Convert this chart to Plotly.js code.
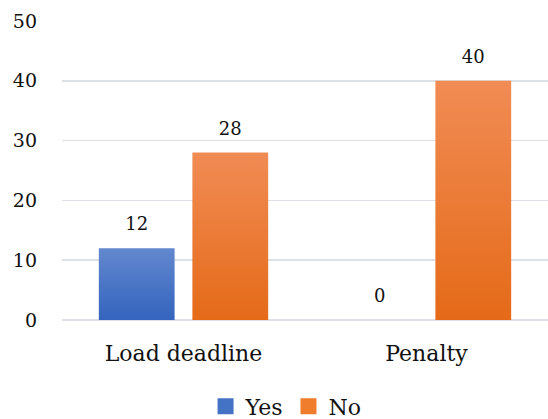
<!DOCTYPE html>
<html>
<head>
<meta charset="utf-8">
<script src="https://cdn.plot.ly/plotly-3.0.1.min.js"></script>
<style>html,body{margin:0;padding:0;background:#fff;}#chart{width:548px;height:419px;}</style>
</head>
<body>
<div id="chart"></div>
<script>
const categories = ["Load deadline", "Penalty"];
const seriesNames = ["Yes", "No"];
const yesValues = [12, 0];
const noValues = [28, 40];
const yTicks = [0, 10, 20, 30, 40, 50];

const font = "DejaVu Serif, Liberation Serif, serif";

const traces = [
  {
    type: "bar", name: seriesNames[0], x: categories, y: yesValues,
    marker: {color: "#4472C4"},
    text: yesValues.map(String), textposition: "outside", cliponaxis: false,
    textfont: {family: font, size: 18, color: "#111"}
  },
  {
    type: "bar", name: seriesNames[1], x: categories, y: noValues,
    marker: {color: "#F07D2C"},
    text: noValues.map(String), textposition: "outside", cliponaxis: false,
    textfont: {family: font, size: 18, color: "#111"}
  }
];

const layout = {
  width: 548, height: 419,
  margin: {l: 62, r: 0, t: 21, b: 99, autoexpand: false},
  paper_bgcolor: "#fff", plot_bgcolor: "#fff",
  barmode: "group", bargap: 0.23, bargroupgap: 0.19,
  font: {family: font, color: "#111"},
  xaxis: {
    showgrid: false, showline: false, ticks: "", ticklabelstandoff: 18,
    tickangle: 0, automargin: false,
    tickfont: {family: font, size: 22, color: "#111"}
  },
  yaxis: {
    range: [0, 50], tickvals: yTicks, ticktext: yTicks.map(String),
    showgrid: true, gridcolor: "#DDE1E6", gridwidth: 1.5,
    zeroline: true, zerolinecolor: "#DDE1E6", zerolinewidth: 1.5,
    showline: false, ticks: "", ticklabelstandoff: 24, automargin: false,
    tickfont: {family: font, size: 19, color: "#111"}
  },
  showlegend: true,
  legend: {
    orientation: "h", xref: "container", yref: "container",
    x: 0.522, xanchor: "center", y: 0.03, yanchor: "middle",
    font: {family: font, size: 22, color: "#111"},
    itemwidth: 30, tracegroupgap: 0
  }
};

function decorate(gd) {
  const svg = gd.querySelector(".main-svg");
  const ns = "http://www.w3.org/2000/svg";
  const defs = svg.querySelector("defs");
  function grad(id, top, bottom) {
    if (defs.querySelector("#" + id)) return;
    const g = document.createElementNS(ns, "linearGradient");
    g.setAttribute("id", id);
    g.setAttribute("x1", "0"); g.setAttribute("y1", "0");
    g.setAttribute("x2", "0"); g.setAttribute("y2", "1");
    [[0, top], [1, bottom]].forEach(function (s) {
      const st = document.createElementNS(ns, "stop");
      st.setAttribute("offset", s[0]);
      st.setAttribute("stop-color", s[1]);
      g.appendChild(st);
    });
    defs.appendChild(g);
  }
  grad("gYes", "#6288CE", "#3464BE");
  grad("gNo", "#F18C55", "#E56A18");
  const ids = ["gYes", "gNo"];
  gd.querySelectorAll(".barlayer .trace").forEach(function (t, i) {
    t.querySelectorAll(".point path").forEach(function (p) {
      p.style.fill = "url(#" + ids[i] + ")";
    });
    // lift the value labels a little further above the bars
    t.querySelectorAll("text.bartext").forEach(function (tx) {
      if (!tx.dataset.lifted) {
        const tr = tx.getAttribute("transform") || "";
        tx.setAttribute("transform", "translate(0,-11) " + tr);
        tx.dataset.lifted = "1";
      }
    });
  });
  // larger legend swatches, as in the reference
  gd.querySelectorAll(".legend .legendpoints path").forEach(function (p) {
    p.setAttribute("d", "M-8,-8H8V8H-8Z");
  });
}

Plotly.newPlot("chart", traces, layout, {displayModeBar: false, staticPlot: true}).then(function (gd) {
  decorate(gd);
  setTimeout(function () { decorate(gd); }, 50);
});
</script>
</body>
</html>
